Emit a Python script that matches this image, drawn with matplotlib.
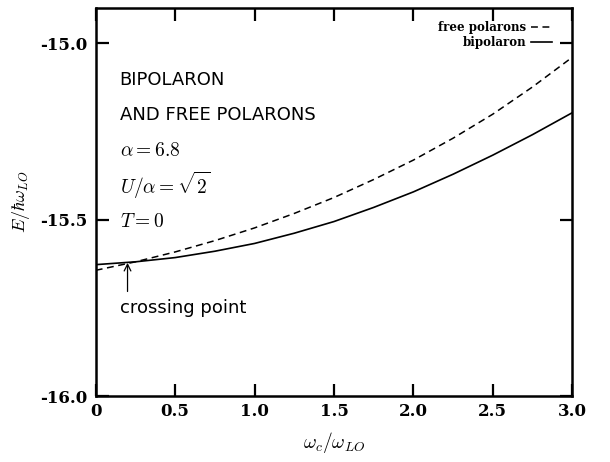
import matplotlib
matplotlib.use("Agg")
import matplotlib.pyplot as plt
from matplotlib.font_manager import FontProperties

plt.rcParams["mathtext.fontset"] = "cm"

# cyclotron frequency omega_c / omega_LO
omega = [0.0, 0.25, 0.5, 0.75, 1.0, 1.25, 1.5, 1.75, 2.0, 2.25, 2.5, 2.75, 3.0]
# ground-state energies E / (hbar omega_LO)
e_bipolaron = [-15.627, -15.619, -15.607, -15.589, -15.567, -15.538, -15.505,
               -15.465, -15.421, -15.371, -15.317, -15.259, -15.197]
e_free = [-15.643, -15.619, -15.591, -15.559, -15.523, -15.482, -15.437,
          -15.386, -15.331, -15.269, -15.201, -15.124, -15.040]

x_ticks = [0, 0.5, 1.0, 1.5, 2.0, 2.5, 3.0]
x_ticklabels = ["0", "0.5", "1.0", "1.5", "2.0", "2.5", "3.0"]
y_ticks = [-16.0, -15.5, -15.0]
y_ticklabels = ["-16.0", "-15.5", "-15.0"]

crossing_x = 0.2
crossing_y = -15.622

fig = plt.figure(figsize=(6.10, 4.62), dpi=100)
ax = fig.add_axes([0.157, 0.142, 0.781, 0.841])

ax.plot(omega, e_free, color="black", lw=1.1, ls=(0, (4.5, 3)), label="free polarons")
ax.plot(omega, e_bipolaron, color="black", lw=1.2, ls="-", label="bipolaron")

ax.set_xlim(0, 3.0)
ax.set_ylim(-16.0, -14.9)
ax.set_xticks(x_ticks)
ax.set_xticklabels(x_ticklabels)
ax.set_yticks(y_ticks)
ax.set_yticklabels(y_ticklabels)

tick_fp = FontProperties(family="DejaVu Serif", weight="bold", size=12)
for lab in ax.get_xticklabels() + ax.get_yticklabels():
    lab.set_fontproperties(tick_fp)

ax.tick_params(direction="in", length=9, width=1.6, top=True, right=True)
ax.tick_params(axis="x", pad=5)
ax.tick_params(axis="y", pad=6)
for sp in ax.spines.values():
    sp.set_linewidth(1.8)

ax.set_xlabel(r"$\omega_c/\omega_{LO}$", fontsize=14, labelpad=7)
ax.set_ylabel(r"$E/\hbar\omega_{LO}$", fontsize=13, labelpad=6)

ax.legend(loc="upper right", bbox_to_anchor=(0.958, 0.966), frameon=False,
          markerfirst=False, handlelength=1.8, handletextpad=0.4,
          labelspacing=0.15, borderaxespad=0, borderpad=0,
          prop=dict(family="DejaVu Serif", weight="bold", size=8.5))

txt = dict(fontsize=13, color="black", va="center", ha="left")
ax.text(0.15, -15.103, "BIPOLARON", **txt)
ax.text(0.15, -15.203, "AND FREE POLARONS", **txt)
ax.text(0.15, -15.304, r"$\alpha = 6.8$", fontsize=14, va="center", ha="left")
ax.text(0.15, -15.402, r"$U/\alpha = \sqrt{2}$", fontsize=14, va="center", ha="left")
ax.text(0.15, -15.505, r"$T = 0$", fontsize=14, va="center", ha="left")
ax.text(0.15, -15.749, "crossing point", **txt)

ax.annotate("", xy=(crossing_x, crossing_y), xytext=(crossing_x, -15.703),
            arrowprops=dict(arrowstyle="->", lw=0.9, color="black",
                            shrinkA=0, shrinkB=0, mutation_scale=12))

fig.savefig("out.png", dpi=100)
